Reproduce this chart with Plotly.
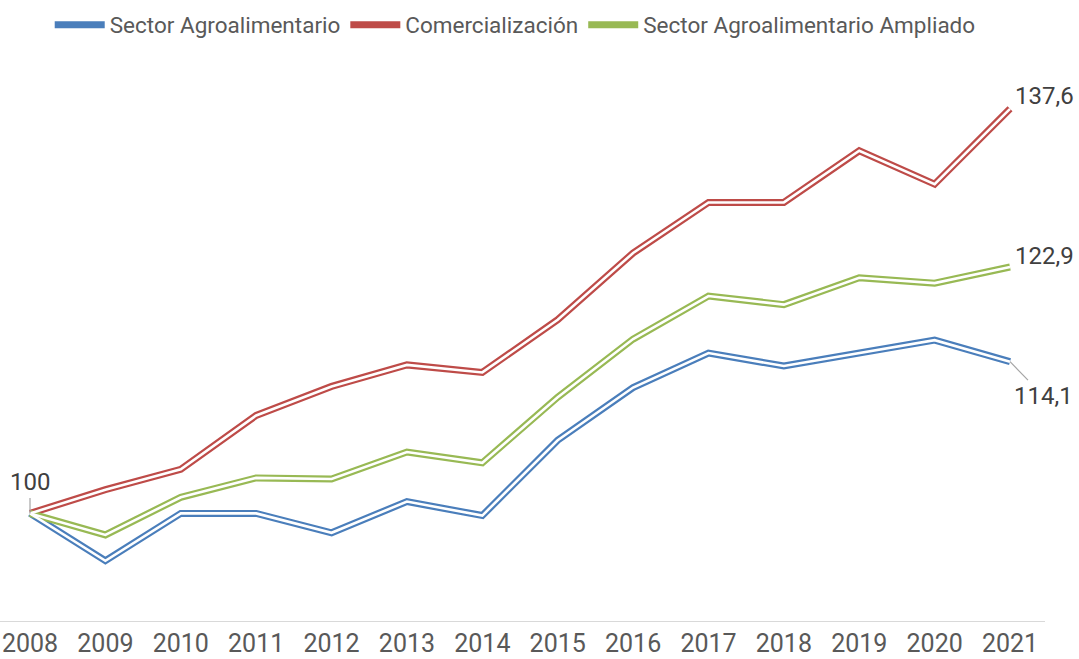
import plotly.graph_objects as go

years = [2008, 2009, 2010, 2011, 2012, 2013, 2014, 2015, 2016, 2017, 2018, 2019, 2020, 2021]
sector_agro = [100, 95.6, 100, 100, 98.2, 101.1, 99.8, 106.8, 111.7, 114.9, 113.7, 114.9, 116.1, 114.1]
comercializacion = [100, 102.2, 104.1, 109.1, 111.8, 113.8, 113.1, 118.0, 124.2, 128.9, 128.9, 133.7, 130.6, 137.6]
sector_ampliado = [100, 98.0, 101.5, 103.3, 103.2, 105.7, 104.7, 110.8, 116.2, 120.2, 119.4, 121.9, 121.4, 122.9]

names = ["Sector Agroalimentario", "Comercialización", "Sector Agroalimentario Ampliado"]
colors = ["#4A7EBB", "#BE4B48", "#98B954"]
series = [sector_agro, comercializacion, sector_ampliado]

FONT = "Roboto"
TXT = "#595959"

fig = go.Figure()
for name, col, vals in zip(names, colors, series):
    fig.add_trace(go.Scatter(x=years, y=vals, mode="lines", name=name,
                             line=dict(color=col, width=7), legendgroup=name))
for name, col, vals in zip(names, colors, series):
    fig.add_trace(go.Scatter(x=years, y=vals, mode="lines", showlegend=False,
                             line=dict(color="white", width=2.6), hoverinfo="skip",
                             legendgroup=name))

lab_font = dict(family=FONT, size=24, color="#404040")
fig.add_annotation(x=years[0], y=sector_agro[0], text="100", showarrow=True,
                   arrowhead=0, arrowcolor="#A6A6A6", arrowwidth=1.2, ax=0, ay=-31,
                   font=lab_font)
fig.add_annotation(x=years[-1], y=comercializacion[-1], text="137,6", showarrow=False,
                   xanchor="left", xshift=3, yshift=13, font=lab_font)
fig.add_annotation(x=years[-1], y=sector_ampliado[-1], text="122,9", showarrow=False,
                   xanchor="left", xshift=3, yshift=11, font=lab_font)
fig.add_annotation(x=years[-1], y=sector_agro[-1], text="114,1", showarrow=True,
                   arrowhead=0, arrowcolor="#A6A6A6", arrowwidth=1.2, ax=33, ay=34,
                   font=lab_font)

fig.update_layout(
    width=1079, height=659,
    margin=dict(l=0, r=34, t=83, b=38, autoexpand=False),
    paper_bgcolor="white", plot_bgcolor="white",
    font=dict(family=FONT, color=TXT),
    showlegend=True,
    legend=dict(orientation="h", x=0.4775, xref="container", xanchor="center",
                y=0.962, yref="container", yanchor="middle",
                font=dict(family=FONT, size=22.5, color=TXT), itemwidth=50,
                traceorder="normal"),
    xaxis=dict(range=[2007.602, 2021.464], tickmode="array", tickvals=years,
               ticktext=[str(y) for y in years], showgrid=False, zeroline=False,
               showline=True, linecolor="#D9D9D9", linewidth=1.3, ticks="",
               tickfont=dict(family=FONT, size=25, color=TXT)),
    yaxis=dict(range=[90, 140], visible=False, showgrid=False, zeroline=False),
)

fig.write_html("out.html", config={"displayModeBar": False},
               post_script="document.body.style.margin='0';document.body.style.padding='0';")
